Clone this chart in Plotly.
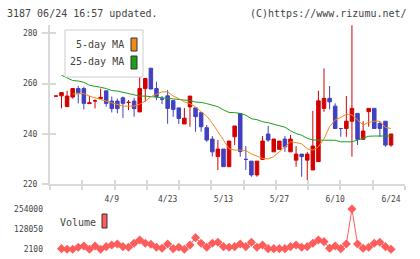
import numpy as np
import plotly.graph_objects as go

# ---------------- data ----------------
idx = list(range(61))
date_labels = ["4/9", "4/23", "5/13", "5/27", "6/10", "6/24"]
date_idx = [10, 20, 30, 40, 50, 60]

opens = [255.0, 255.1, 250.8, 254.6, 258.0, 258.0, 252.0, 253.1, 254.0, 257.1,
         253.0, 253.0, 254.3, 252.5, 253.0, 248.7, 258.0, 266.1, 258.0, 253.8,
         255.1, 253.2, 250.3, 243.9, 250.7, 250.3, 248.4, 242.4, 237.9, 230.9,
         233.9, 226.9, 238.8, 248.1, 229.8, 229.1, 223.6, 229.8, 239.9, 232.8,
         233.8, 237.9, 232.8, 229.5, 231.9, 229.5, 225.6, 228.9, 250.1, 254.1,
         251.0, 242.1, 242.1, 245.0, 248.1, 237.8, 248.8, 250.1, 244.1, 245.0,
         235.5]
highs = [255.0, 256.4, 257.1, 258.2, 259.0, 258.7, 255.0, 253.7, 258.0, 257.1,
         254.8, 254.0, 254.8, 253.4, 254.3, 268.2, 262.0, 266.1, 260.7, 255.0,
         257.4, 253.4, 250.3, 250.3, 255.0, 250.3, 248.4, 243.5, 239.1, 237.5,
         233.9, 237.1, 243.1, 248.1, 235.1, 229.1, 229.1, 239.1, 243.1, 237.9,
         237.1, 239.1, 239.5, 235.1, 231.9, 232.8, 249.1, 257.1, 266.0, 259.0,
         252.1, 242.1, 255.0, 283.2, 248.1, 245.0, 250.1, 250.1, 245.0, 245.0,
         239.9]
lows = [255.0, 250.1, 250.8, 254.0, 252.1, 249.7, 252.0, 250.1, 254.0, 250.8,
        248.5, 248.1, 246.3, 249.4, 246.8, 248.7, 252.7, 257.8, 253.4, 251.8,
        244.0, 246.8, 243.9, 243.9, 242.8, 240.8, 240.8, 236.8, 230.9, 225.6,
        226.9, 226.9, 235.5, 230.9, 225.6, 222.9, 222.9, 229.8, 236.8, 232.8,
        233.8, 232.8, 232.8, 226.9, 222.9, 221.6, 225.6, 228.9, 248.7, 249.7,
        242.1, 238.8, 238.8, 230.9, 235.5, 237.8, 242.8, 242.1, 238.8, 234.8,
        234.8]
closes = [255.0, 256.4, 255.0, 258.0, 256.3, 252.1, 252.3, 253.1, 254.5, 252.1,
          250.0, 250.0, 252.1, 252.5, 250.0, 258.0, 262.0, 257.8, 254.8, 253.8,
          250.1, 249.7, 246.1, 246.2, 255.0, 246.8, 242.8, 237.5, 232.8, 233.9,
          226.9, 237.1, 243.1, 232.9, 229.8, 223.6, 229.1, 237.1, 237.5, 237.9,
          237.1, 234.8, 237.9, 231.9, 230.9, 231.9, 235.1, 253.1, 254.1, 252.7,
          242.1, 242.1, 245.0, 250.1, 237.8, 241.1, 250.1, 242.1, 242.1, 235.5,
          239.9]

ma5 = [None, None, None, 255.8, 256.0, 256.0, 255.0, 254.3, 253.5, 253.0,
       252.2, 251.5, 251.0, 251.0, 251.0, 251.8, 253.0, 254.7, 255.8, 256.7,
       256.7, 255.0, 254.0, 252.7, 252.0, 250.7, 248.8, 247.0, 244.2, 241.0,
       237.5, 234.0, 233.5, 233.5, 233.3, 232.0, 231.0, 230.2, 230.0, 230.9,
       232.8, 235.0, 236.8, 236.5, 236.0, 234.0, 233.5, 234.8, 238.0, 242.8,
       245.5, 246.5, 247.8, 247.5, 245.5, 243.5, 244.5, 245.0, 245.0, 242.5,
       242.1]
ma25 = [None, 263.3, 262.2, 261.2, 261.0, 260.5, 259.3, 259.0, 258.5, 258.0,
        257.2, 257.0, 256.5, 256.0, 255.2, 255.0, 255.0, 254.8, 254.6, 254.3,
        254.1, 254.0, 253.8, 253.4, 253.2, 252.6, 252.5, 252.0, 251.4, 250.8,
        249.5, 248.5, 248.4, 248.1, 247.4, 246.0, 245.6, 244.8, 244.4, 243.8,
        243.1, 242.6, 241.2, 240.1, 239.4, 238.2, 237.5, 237.5, 237.5, 237.5,
        237.4, 236.8, 236.8, 236.8, 237.5, 238.2, 239.0, 239.1, 239.1, 239.1,
        239.1]

volume = [None, 6300, 2100, 2100, 14600, 22900, 2100, 22900, 2100, 18800,
          29200, 35400, 18800, 14600, 39600, 60400, 39600, 33300, 14600, 8300,
          35400, 6300, 14600, 2100, 29200, 75000, 39600, 14600, 39600, 45800,
          18800, 14600, 18800, 35400, 18800, 45800, 14600, 29200, 6300, 6300,
          6300, 6300, 18800, 29200, 14600, 18800, 39600, 60400, 50000, 8300,
          22900, 6300, 35400, 254000, 35400, 8300, 14600, 39600, 45800, 18800,
          2100]

price_ticks = [220, 240, 260, 280]
vol_ticks = [2100, 128050, 254000]

# ---------------- styling ----------------
W, H = 420, 259
RED = "#d20000"
BLUE = "#4040c0"
ORANGE = "#f08a1c"
GREEN = "#1aa01a"
VOLC = "#ff5c5c"
AX = "#d9d9d9"
TXT = "#444444"
FONT = "DejaVu Sans Mono"

xr = [-1.06, 62.5]
xdom = [50 / W, 405 / W]
ydom_main = [(H - 184) / H, (H - 25) / H]
yr_main = [220, 283.3]
ydom_vol = [(H - 249.3) / H, (H - 209) / H]
yr_vol = [2100, 254000]
cross_ticks = list(np.linspace(xr[0], xr[1], 12))

fig = go.Figure()

fig.add_trace(go.Scatter(x=idx, y=ma25, mode="lines", line=dict(color=GREEN, width=1),
                         showlegend=False, hoverinfo="skip"))
fig.add_trace(go.Scatter(x=idx, y=ma5, mode="lines", line=dict(color=ORANGE, width=1),
                         showlegend=False, hoverinfo="skip"))
fig.add_trace(go.Candlestick(
    x=idx, open=opens, high=highs, low=lows, close=closes,
    increasing=dict(line=dict(color=RED, width=1), fillcolor=RED),
    decreasing=dict(line=dict(color=BLUE, width=1), fillcolor=BLUE),
    whiskerwidth=0, showlegend=False))

fig.add_trace(go.Scatter(x=idx, y=volume, mode="lines+markers", xaxis="x2", yaxis="y2",
                         line=dict(color=VOLC, width=1),
                         marker=dict(symbol="diamond", size=7, color=VOLC),
                         cliponaxis=False, showlegend=False, hoverinfo="skip"))

# dummy traces so the helper axes are drawn
for xa, ya in [("x3", "y"), ("x4", "y"), ("x5", "y"), ("x", "y3")]:
    fig.add_trace(go.Scatter(x=[None], y=[None], xaxis=xa, yaxis=ya, showlegend=False,
                             hoverinfo="skip"))

tickfont = dict(family=FONT, size=8, color=TXT)

fig.update_layout(
    width=W, height=H, margin=dict(l=0, r=0, t=0, b=0, pad=0, autoexpand=False),
    paper_bgcolor="white", plot_bgcolor="white",
    boxgap=0.1,
    xaxis=dict(domain=xdom, range=xr, anchor="y", showgrid=False, zeroline=False,
               automargin=False,
               rangeslider=dict(visible=False), showline=True, linecolor=AX, linewidth=2,
               tickmode="array", tickvals=cross_ticks, ticks="outside", ticklen=4,
               tickwidth=1.5, tickcolor=AX, showticklabels=False),
    xaxis3=dict(overlaying="x", range=xr, anchor="y", showgrid=False, zeroline=False,
                automargin=False,
                tickmode="array", tickvals=cross_ticks, ticks="inside", ticklen=4,
                tickwidth=1.5, tickcolor=AX, showticklabels=False, showline=False),
    xaxis4=dict(overlaying="x", range=xr, anchor="y", visible=False, automargin=False),
    xaxis5=dict(overlaying="x", range=xr, anchor="y", showgrid=False, zeroline=False,
                automargin=False,
                tickmode="array", tickvals=date_idx, ticktext=date_labels, ticks="",
                tickfont=tickfont, showline=False, ticklabelstandoff=9),
    yaxis=dict(domain=ydom_main, range=yr_main, anchor="x", showgrid=False, zeroline=False,
               automargin=False,
               showline=True, linecolor=AX, linewidth=2,
               tickmode="array", tickvals=price_ticks, ticks="outside", ticklen=6,
               tickwidth=1.5, tickcolor=AX, tickfont=tickfont, ticklabelstandoff=3),
    yaxis3=dict(overlaying="y", range=yr_main, anchor="x", side="left", showgrid=False,
                automargin=False,
                zeroline=False, tickmode="array", tickvals=price_ticks, ticks="inside",
                ticklen=6, tickwidth=1.5, tickcolor=AX, showticklabels=False, showline=False),
    xaxis2=dict(domain=xdom, range=xr, anchor="y2", visible=False, automargin=False),
    yaxis2=dict(domain=ydom_vol, range=yr_vol, anchor="x2", showgrid=False, zeroline=False,
                automargin=False,
                showline=False, tickmode="array", tickvals=vol_ticks,
                ticktext=[str(v) for v in vol_ticks], ticks="", tickfont=tickfont,
                ticklabelstandoff=6),
)

# header texts
fig.add_annotation(x=5 / W, y=1 - 13 / H, xref="paper", yref="paper", xanchor="left",
                   yanchor="middle", showarrow=False, text="3187 06/24 16:57 updated.",
                   font=dict(family=FONT, size=10, color=TXT))
fig.add_annotation(x=409 / W, y=1 - 13 / H, xref="paper", yref="paper", xanchor="right",
                   yanchor="middle", showarrow=False, text="(C)https://www.rizumu.net/",
                   font=dict(family=FONT, size=10, color=TXT))

# legend box (main)
fig.add_shape(type="rect", xref="paper", yref="paper", x0=65 / W, x1=143 / W,
              y0=1 - 77 / H, y1=1 - 30 / H, fillcolor="white",
              line=dict(color="#cccccc", width=1), layer="above")
for label, col, yc in [("5-day MA", ORANGE, 44), ("25-day MA", GREEN, 62)]:
    fig.add_annotation(x=126 / W, y=1 - yc / H, xref="paper", yref="paper", xanchor="right",
                       yanchor="middle", showarrow=False, text=label,
                       font=dict(family=FONT, size=10, color=TXT))
    fig.add_shape(type="rect", xref="paper", yref="paper", x0=131 / W, x1=137 / W,
                  y0=1 - (yc + 7) / H, y1=1 - (yc - 6) / H, fillcolor=col,
                  line=dict(color="#333333", width=1), layer="above")

# volume legend
fig.add_annotation(x=58 / W, y=1 - 222 / H, xref="paper", yref="paper", xanchor="left",
                   yanchor="middle", showarrow=False, text="Volume",
                   font=dict(family=FONT, size=10, color=TXT))
fig.add_shape(type="rect", xref="paper", yref="paper", x0=102 / W, x1=107 / W,
              y0=1 - 228 / H, y1=1 - 214 / H, fillcolor=VOLC,
              line=dict(color="#333333", width=1), layer="above")

fig.write_html("out.html")
